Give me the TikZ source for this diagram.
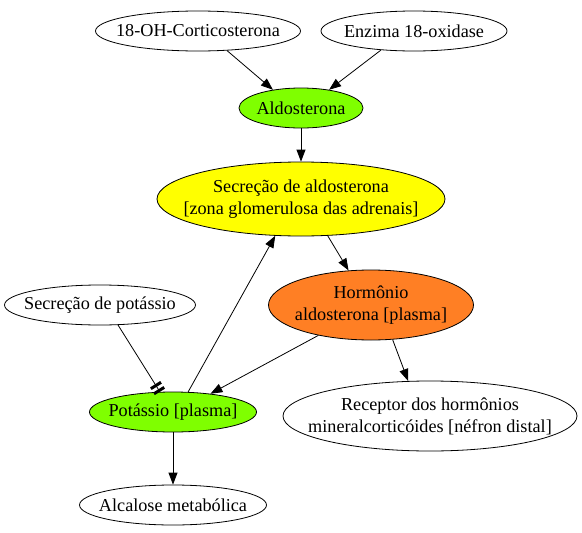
\documentclass[tikz,border=0pt]{standalone}
\usepackage{fontspec}
\setmainfont{Liberation Serif}
\usetikzlibrary{shapes.geometric,arrows.meta}
\definecolor{chart}{RGB}{127,255,0}
\definecolor{yel}{RGB}{255,255,0}
\definecolor{org}{RGB}{255,127,36}
\tikzset{
  ell/.style={ellipse,draw,line width=0.8pt,inner sep=0pt,minimum width=#1},
  ell/.default=100pt,
  every label/.style={align=center,inner sep=0pt,font=\fontsize{18.2}{22}\selectfont},
  edge/.style={line width=0.8pt,-{Triangle[length=12pt,width=9pt]}},
  inhib/.style={line width=0.8pt,-{Bar[width=12pt,line width=3pt,sep=3pt]Bar[width=12pt,line width=3pt]}}
}
\begin{document}
\begin{tikzpicture}[x=1pt,y=-1pt]
\useasboundingbox (0,0) rectangle (582,533);
\node[ell=205pt,minimum height=40pt,label=center:{18-OH-Corticosterona}] (oh) at (198,31) {};
\node[ell=186pt,minimum height=40pt,label=center:{Enzima 18-oxidase}] (enz) at (414,31) {};
\node[ell=124pt,fill=chart,minimum height=40pt,label=center:{Aldosterona}] (ald) at (301,108) {};
\node[ell=288pt,fill=yel,minimum height=74pt,label=center:{Secreção de aldosterona\\{}[zona glomerulosa das adrenais]}] (sec) at (301,199) {};
\node[ell=205pt,fill=org,minimum height=70pt,label=center:{Hormônio\\aldosterona [plasma]}] (hor) at (371,305) {};
\node[ell=191pt,minimum height=40pt,label=center:{Secreção de potássio}] (spot) at (100,305) {};
\node[ell=167pt,fill=chart,minimum height=40pt,label=center:{Potássio [plasma]}] (pot) at (173,412) {};
\node[ell=294pt,minimum height=70pt,label=center:{Receptor dos hormônios\\mineralcorticóides [néfron distal]}] (rec) at (430,416) {};
\node[ell=187pt,minimum height=40pt,label=center:{Alcalose metabólica}] (alc) at (173,505) {};
\draw[edge] (oh.-34) -- (ald.147);
\draw[edge] (enz.210) -- (ald.33);
\draw[edge] (ald) -- (sec);
\draw[edge] (sec.-54) -- (hor.123);
\draw[edge] (pot.53) -- (sec.235);
\draw[edge] (hor.210) -- (pot.26);
\draw[edge] (hor.-58) -- (rec.122);
\draw[inhib] (spot.-48) -- (pot.123);
\draw[edge] (pot) -- (alc);
\end{tikzpicture}
\end{document}
